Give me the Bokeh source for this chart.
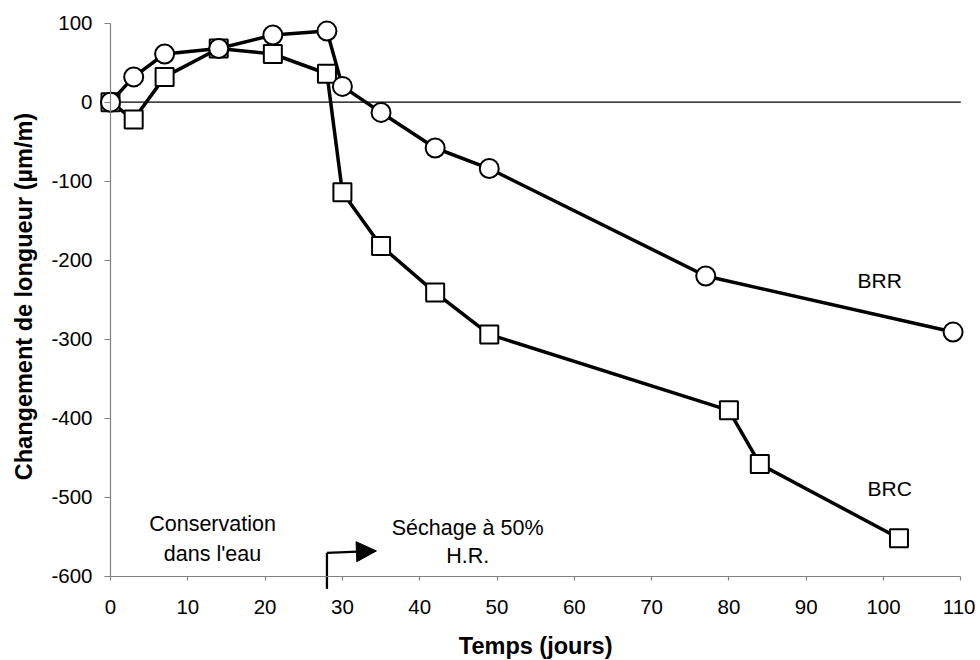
import math
from bokeh.plotting import figure
from bokeh.models import Range1d, FixedTicker, Arrow, NormalHead, ColumnDataSource
from bokeh.core.properties import value
from bokeh.embed import file_html
from bokeh.resources import INLINE

# ---- data ----
days_brr = [0, 3, 7, 14, 21, 28, 30, 35, 42, 49, 77, 109]
brr = [0, 32, 61, 68, 85, 90, 20, -13, -58, -84, -220, -291]
days_brc = [0, 3, 7, 14, 21, 28, 30, 35, 42, 49, 80, 84, 102]
brc = [0, -22, 32, 68, 61, 36, -114, -182, -241, -294, -390, -458, -552]
x_ticks = list(range(0, 111, 10))
y_ticks = list(range(-600, 101, 100))
x_min, x_max = 0, 110
y_min, y_max = -600, 100
drying_start = 28

FONT = "Liberation Sans"
TICK = "20.5px"
TXT = "21.5px"
TITLE = "23.5px"

p = figure(width=975, height=660, output_backend="svg", toolbar_location=None,
           x_range=Range1d(-14.23, 111.9), y_range=Range1d(-706.7, 128.7),
           min_border=0)
p.outline_line_color = None
p.grid.visible = False
p.background_fill_color = "white"
p.border_fill_color = "white"

# axes (crossing at the chart's origin corner)
p.xaxis.fixed_location = y_min
p.yaxis.fixed_location = x_min
p.xaxis.bounds = (x_min, x_max)
p.yaxis.bounds = (y_min, y_max)
p.xaxis.ticker = FixedTicker(ticks=x_ticks)
p.yaxis.ticker = FixedTicker(ticks=y_ticks)
p.yaxis.major_label_overrides = {t: str(t) for t in y_ticks}
for ax in (p.xaxis[0], p.yaxis[0]):
    ax.axis_line_color = "#808080"
    ax.axis_line_width = 1.2
    ax.major_tick_line_color = "#808080"
    ax.major_tick_line_width = 1.2
    ax.minor_tick_line_color = None
    ax.major_tick_in = 0
    ax.major_label_text_font = FONT
    ax.major_label_text_font_size = TICK
    ax.major_label_text_color = "black"
p.xaxis.major_tick_out = 4
p.yaxis.major_tick_out = 6
p.xaxis.major_label_standoff = 20
p.yaxis.major_label_standoff = 12

# axis titles
p.text(x=[(x_min + x_max) / 2], y=[-688], text=["Temps (jours)"], text_align="center",
       text_baseline="alphabetic", text_font=value(FONT), text_font_size=TITLE,
       text_font_style="bold", text_color="black")
p.text(x=[-11.25], y=[-246], text=["Changement de longueur (µm/m)"], angle=math.pi / 2,
       text_align="center", text_baseline="middle", text_font=value(FONT),
       text_font_size=TITLE, text_font_style="bold", text_color="black")

# zero line
p.segment(x0=[x_min], y0=[0], x1=[x_max], y1=[0], line_color="black", line_width=1.3)

# BRC series (squares)
src_brc = ColumnDataSource(dict(x=days_brc, y=brc))
p.line("x", "y", source=src_brc, line_color="black", line_width=3.5)
p.scatter("x", "y", source=src_brc, marker="square", size=18, fill_color="white",
          line_color="black", line_width=2)

# BRR series (circles)
src_brr = ColumnDataSource(dict(x=days_brr, y=brr))
p.line("x", "y", source=src_brr, line_color="black", line_width=3.5)
p.scatter("x", "y", source=src_brr, marker="circle", size=19, fill_color="white",
          line_color="black", line_width=2)

# series labels
p.text(x=[99.5], y=[-226], text=["BRR"], text_align="center", text_baseline="alphabetic",
       text_font=value(FONT), text_font_size="21px", text_color="black")
p.text(x=[100.8], y=[-488.5], text=["BRC"], text_align="center", text_baseline="alphabetic",
       text_font=value(FONT), text_font_size="21px", text_color="black")

# phase annotations
p.text(x=[13.2, 13.2], y=[-533.5, -572], text=["Conservation", "dans l'eau"],
       text_align="center", text_baseline="alphabetic",
       text_font=value(FONT), text_font_size=TXT, text_color="black")
p.text(x=[46.2, 46.2], y=[-538.5, -575], text=["Séchage à 50%", "H.R."],
       text_align="center", text_baseline="alphabetic",
       text_font=value(FONT), text_font_size=TXT, text_color="black")

# drying-start arrow
p.line(x=[drying_start, drying_start], y=[-616, -570.4], line_color="black", line_width=2.3)
p.add_layout(Arrow(x_start=drying_start, y_start=-570.4, x_end=34.4, y_end=-568,
                   line_color="black", line_width=2.3,
                   end=NormalHead(size=20, fill_color="black", line_color="black", line_width=1)))

open("out.html", "w").write(file_html(p, INLINE))
